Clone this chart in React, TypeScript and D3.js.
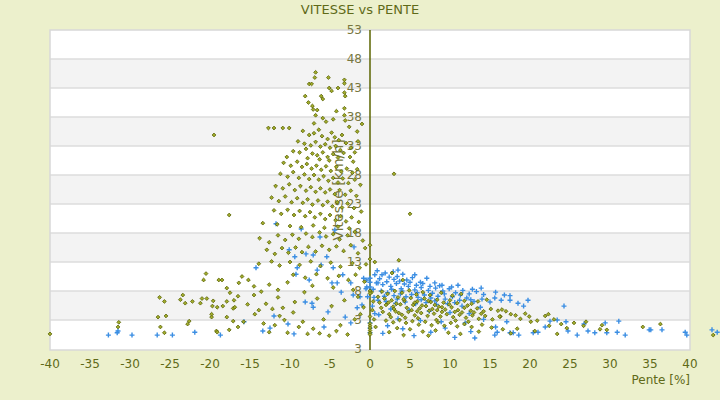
import React from 'react';
import * as d3 from 'd3';

// [pente %, vitesse km/h]
const greenTop: [number, number][] = [
  [-6.8, 45.7], [-6.9, 44.8], [-5.2, 44.8], [-7.6, 43.7], [-7.3, 43.7], [-3.2, 44.4], [-3.2, 43.8],
  [-5.1, 43.0], [-4.8, 42.5], [-4.0, 43.0], [-3.1, 41.6], [-8.1, 41.6], [-6.1, 41.6], [-5.9, 41.1], [-3.2, 42.2],
];
const greenHigh: [number, number][] = [
  [-7.7, 40.5], [-7.2, 39.9], [-7.1, 39.3], [-6.6, 39.2], [-6.8, 38.3], [-5.9, 37.8], [-4.2, 39.0], [-3.2, 39.5],
  [-3.2, 38.3], [-3.1, 37.4], [-1.0, 36.8], [-12.7, 36.1], [-10.9, 36.1], [-10.1, 36.1], [-8.4, 35.6], [-7.6, 34.9],
  [-7.0, 35.2], [-6.4, 35.8], [-6.0, 34.7], [-5.3, 34.2], [-4.8, 35.3], [-4.4, 34.5], [-3.9, 34.0], [-3.5, 34.9],
  [-2.6, 36.3], [-1.6, 35.5], [-9.0, 33.8], [-8.2, 33.4], [-7.4, 33.1], [-6.8, 33.7], [-6.2, 32.9], [-5.6, 33.3],
  [-5.0, 32.7], [-4.3, 33.0], [-3.7, 32.3], [-3.0, 33.5], [-2.4, 32.7], [-9.6, 32.1], [-8.8, 31.9], [-8.0, 32.5],
  [-7.2, 31.7], [-6.6, 31.4], [-5.9, 31.9], [-5.3, 31.1], [-4.6, 31.6], [-4.0, 31.0], [-3.3, 31.8], [-2.5, 31.1],
  [-1.9, 31.9], [-10.4, 31.1], [-7.8, 30.9], [-6.3, 30.7], [-5.1, 30.5], [-2.1, 30.3], [-12.0, 36.1], [-19.5, 34.9],
  [-1.5, 33.8], [-7.0, 36.9], [-5.5, 37.2], [-4.6, 37.6],
];
const greenMid: [number, number][] = [
  [-10.8, 30.1], [-9.9, 29.6], [-9.1, 30.3], [-8.5, 29.4], [-7.9, 29.9], [-7.3, 29.1], [-6.7, 29.6], [-6.1, 28.9],
  [-5.5, 29.5], [-4.9, 28.7], [-4.2, 29.4], [-3.6, 28.6], [-2.9, 29.1], [-2.2, 28.4], [-1.6, 29.0],
  [-11.2, 28.2], [-10.3, 27.7], [-9.6, 28.5], [-8.9, 27.5], [-8.2, 28.1], [-7.6, 27.3], [-7.0, 28.0], [-6.4, 27.2],
  [-5.8, 27.8], [-5.2, 27.0], [-4.6, 27.5], [-4.0, 26.7], [-3.4, 27.4], [-2.7, 26.6], [-1.9, 27.2], [-1.2, 26.3],
  [-11.8, 26.1], [-10.9, 25.7], [-10.1, 26.4], [-9.4, 25.4], [-8.7, 26.1], [-8.0, 25.3], [-7.4, 25.9], [-6.8, 25.1],
  [-6.2, 25.7], [-5.6, 25.0], [-5.0, 25.5], [-4.4, 24.7], [-3.8, 25.4], [-3.1, 24.6], [-2.4, 25.3], [-1.7, 24.4],
  [-12.3, 24.1], [-11.4, 23.5], [-10.6, 24.3], [-9.8, 23.3], [-9.1, 24.0], [-8.4, 23.2], [-7.8, 23.8], [-7.2, 22.9],
  [-6.5, 23.6], [-5.9, 22.8], [-5.3, 23.4], [-4.7, 22.6], [-4.1, 23.3], [-3.5, 22.4], [-2.8, 23.1], [-2.0, 22.3],
  [-1.1, 21.7], [-12.0, 21.9], [-11.1, 21.3], [-10.3, 22.0], [-9.5, 21.1], [-8.8, 21.8], [-8.1, 20.9], [-7.5, 21.6],
  [-6.9, 20.7], [-6.2, 21.3], [-5.6, 20.4], [-5.0, 21.1], [-4.3, 20.2], [-3.7, 20.9], [-3.0, 20.0], [-2.3, 20.7],
  [-1.4, 19.9], [-11.6, 19.5], [-10.0, 19.2], [-8.6, 19.0], [-7.1, 19.3], [-5.7, 18.9], [-4.0, 19.1], [-2.6, 18.8],
  [-13.4, 19.7], [-17.6, 21.1], [5.0, 21.3], [3.0, 28.2],
];
const greenLow: [number, number][] = [
  [-13.8, 17.1], [-12.6, 16.4], [-11.5, 17.6], [-10.6, 16.8], [-9.7, 17.7], [-8.9, 17.0], [-8.0, 17.9], [-7.2, 17.3],
  [-6.3, 18.1], [-5.5, 17.4], [-4.6, 17.8], [-3.8, 16.9], [-2.8, 17.6], [-1.9, 18.2], [-0.9, 16.7],
  [-12.9, 15.1], [-11.9, 14.4], [-11.0, 15.4], [-10.2, 14.6], [-9.3, 15.5], [-8.5, 14.7], [-7.7, 15.6], [-6.8, 14.8],
  [-6.0, 15.8], [-5.1, 15.1], [-4.2, 15.7], [-3.3, 14.9], [-2.4, 15.9], [-1.5, 14.5], [-0.6, 15.4],
  [-13.9, 12.7], [-12.3, 13.1], [-11.3, 12.4], [-10.0, 13.0], [-8.8, 12.5], [-7.4, 13.1], [-6.2, 12.3], [-4.9, 12.9],
  [-3.7, 12.2], [-2.2, 12.8], [-1.3, 12.0], [-0.5, 12.6], [-9.6, 10.8], [-8.1, 10.3], [-6.7, 10.9], [-5.3, 10.2],
  [-3.9, 10.6], [-2.7, 9.9], [-1.8, 10.8], [-0.7, 9.6], [-7.2, 8.9], [-4.6, 8.6], [-2.1, 8.2],
];
const greenLeft: [number, number][] = [
  [-20.5, 11.0], [-20.8, 9.9], [-18.9, 9.9], [-18.5, 9.9], [-17.9, 8.5], [-17.5, 7.7], [-16.4, 9.4], [-16.0, 10.5],
  [-15.2, 9.9], [-14.5, 8.8], [-13.6, 7.9], [-12.6, 9.1], [-11.5, 8.2], [-10.3, 9.5], [-23.4, 7.3], [-23.7, 6.5],
  [-23.1, 5.9], [-22.2, 6.2], [-21.0, 6.7], [-20.4, 6.7], [-19.6, 6.3], [-19.1, 5.2], [-18.4, 5.4], [-17.9, 6.2],
  [-17.1, 5.0], [-16.5, 7.1], [-15.3, 5.7], [-14.5, 7.3], [-13.9, 4.7], [-13.0, 5.8], [-12.2, 4.9], [-11.5, 6.9],
  [-10.9, 5.1], [-25.7, 6.2], [-26.3, 6.9], [-26.5, 3.5], [-26.2, 1.8], [-25.7, 0.8], [-31.5, 1.8], [-31.4, 2.6],
  [-25.5, 3.7], [-22.8, 2.3], [-22.6, 2.8], [-21.2, 5.9], [-19.8, 3.5], [-19.8, 4.0], [-19.7, 5.4], [-17.9, 3.5],
  [-19.2, 1.1], [-17.6, 1.3], [-17.1, 2.8], [-16.9, 5.2], [-17.0, 6.4], [-40.0, 0.6], [-19.1, 0.9],
  [-16.5, 1.8], [-15.8, 2.7], [-14.4, 4.0], [-13.3, 2.4], [-12.6, 0.9], [-11.9, 2.1], [-11.3, 3.7], [-10.7, 3.0],
  [-10.3, 0.8], [-9.6, 4.3], [-8.9, 1.8], [-8.4, 2.7], [-7.8, 0.6], [-7.1, 1.5], [-6.3, 0.7], [-5.8, 3.1],
  [-5.1, 0.3], [-4.2, 1.1], [-3.7, 2.1], [-2.8, 0.5], [-1.9, 3.1], [-1.2, 4.0], [-0.8, 5.2], [-1.5, 7.0],
  [-3.2, 6.4], [-4.8, 5.4], [-6.6, 6.7], [-8.2, 7.8], [-9.4, 6.1],
];
const greenFlat: [number, number][] = [
  [1.5, 7.9], [2.2, 7.5], [3.1, 8.0], [4.0, 7.7], [4.9, 8.1], [5.8, 7.4], [6.6, 7.8], [7.5, 7.3], [8.9, 7.7],
  [10.3, 7.2], [11.4, 7.5], [1.0, 7.0], [1.8, 6.7], [2.7, 6.4], [3.5, 6.9], [4.3, 6.3], [5.1, 6.8], [5.9, 6.2],
  [6.8, 6.7], [7.6, 6.1], [8.4, 6.5], [9.2, 6.0], [10.0, 6.4], [10.9, 5.9], [11.8, 6.3], [12.7, 5.8], [13.5, 6.2],
  [14.6, 6.5], [2.0, 5.6], [2.9, 5.3], [3.8, 5.7], [4.6, 5.1], [5.4, 5.6], [6.2, 5.0], [7.0, 5.4], [7.8, 4.9],
  [8.6, 5.3], [9.4, 4.8], [10.2, 5.2], [11.0, 4.7], [11.8, 5.1], [12.6, 4.6], [13.4, 5.0], [14.2, 4.5], [15.1, 4.9],
  [16.0, 4.6], [1.4, 5.1], [1.6, 4.4], [2.4, 4.0], [3.2, 4.5], [4.0, 3.9], [4.8, 4.4], [5.6, 3.8], [6.4, 4.2],
  [7.2, 3.7], [8.0, 4.1], [8.8, 3.6], [9.6, 4.0], [10.4, 3.5], [11.2, 3.9], [12.0, 3.4], [12.8, 3.8], [13.6, 3.2],
  [14.4, 3.7], [15.3, 3.1], [16.3, 3.6], [2.0, 2.9], [2.9, 2.6], [3.7, 3.0], [4.5, 2.5], [5.3, 2.8], [6.1, 2.2],
  [6.9, 2.7], [7.7, 2.1], [8.5, 2.6], [9.3, 2.0], [10.1, 2.5], [10.9, 1.9], [11.8, 2.3], [12.7, 1.8], [14.0, 2.2],
  [15.2, 1.7], [3.4, 1.6], [5.0, 1.4], [6.6, 1.0], [8.2, 1.2], [9.8, 0.8], [2.4, 0.9], [4.2, 0.4], [11.3, 0.6],
  [13.6, 1.0], [16.6, 1.4], [7.3, 0.3], [0.3, 4.7], [0.5, 3.1], [0.4, 6.2], [0.7, 1.8], [0.2, 7.8],
  [3.0, 4.9], [5.2, 4.7], [7.4, 4.6], [9.0, 4.4], [11.5, 4.3], [6.0, 3.3], [8.3, 3.0], [10.7, 2.9], [4.4, 3.4],
  [2.6, 3.5], [12.3, 2.7], [13.9, 4.1], [2.75, 11.1], [4.1, 9.9], [3.6, 13.3], [0.6, 13.0],
  [2.3, 6.0], [3.3, 5.8], [4.2, 6.6], [5.6, 6.0], [6.5, 5.5], [7.3, 6.3], [8.1, 5.6], [9.0, 5.2], [9.9, 5.7],
  [10.6, 4.4], [12.2, 5.5], [13.0, 4.3], [1.2, 6.0], [3.6, 4.2], [5.9, 4.5], [8.4, 4.7],
];
const greenTail: [number, number][] = [
  [16.5, 4.8], [17.0, 4.5], [16.2, 3.6], [17.6, 4.0], [18.2, 3.8], [18.8, 3.2], [19.4, 4.1], [19.9, 3.6],
  [20.1, 2.7], [20.9, 2.9], [21.9, 3.7], [22.3, 4.0], [23.0, 3.1], [23.9, 2.3], [24.6, 1.6], [25.5, 2.5],
  [26.7, 2.0], [27.0, 2.7], [28.75, 1.4], [29.0, 2.1], [29.6, 1.3], [34.1, 1.8], [36.3, 2.3], [42.9, 0.4],
  [18.4, 1.5], [20.6, 1.1], [23.4, 0.6], [17.6, 0.7], [22.4, 2.0],
];
const greenAxis: [number, number][] = [
  [0, 2.4], [0, 2.0], [0, 1.6], [0, 1.2], [0, 0.8], [0, 0.5], [0, 3.6], [0, 15.9], [0, 13.5], [0, 8.0], [0, 7.6],
];

const blueCluster: [number, number][] = [
  [0.9, 11.5], [1.9, 11.1], [2.9, 11.3], [3.4, 10.5], [1.2, 10.1], [2.4, 10.4], [4.1, 10.9], [4.6, 9.9], [5.3, 10.3],
  [6.3, 9.5], [7.1, 10.2], [8.1, 9.4], [9.0, 9.0], [0.8, 9.4], [1.6, 9.1], [2.6, 8.8], [3.3, 9.3], [3.9, 8.4],
  [4.8, 8.8], [5.6, 8.2], [6.4, 8.6], [7.3, 8.1], [8.2, 8.5], [9.1, 8.0], [9.9, 8.4], [10.7, 7.7], [11.6, 8.1],
  [12.4, 7.5], [13.3, 7.9], [14.2, 7.4], [15.7, 7.8], [16.8, 7.3], [1.4, 8.0], [2.2, 7.7], [3.0, 7.2], [3.8, 7.5],
  [4.5, 7.0], [5.2, 7.4], [6.0, 6.9], [6.8, 7.3], [7.6, 6.8], [8.5, 7.1], [9.4, 6.6], [10.3, 7.0], [11.2, 6.4],
  [12.1, 6.8], [13.0, 6.2], [14.0, 6.6], [15.0, 6.1], [1.0, 6.4], [2.0, 6.2], [3.2, 5.9], [4.4, 6.1], [5.7, 5.8],
  [7.0, 6.0], [8.3, 5.7], [9.7, 5.8], [11.5, 5.4], [13.8, 5.2], [2.6, 4.9], [4.9, 4.7], [7.4, 4.5], [10.0, 4.3],
  [12.4, 4.1], [1.1, 3.9], [3.5, 3.2], [6.3, 2.9], [8.9, 2.7], [11.9, 2.5], [14.2, 3.1], [2.2, 2.0], [4.1, 1.5],
  [7.6, 0.9], [9.4, 1.6], [12.6, 1.0], [15.7, 1.8], [5.5, 0.3], [10.6, 0.0], [13.1, -0.1], [1.6, 0.7],
  [1.5, 10.8], [2.1, 9.6], [3.0, 10.0], [3.7, 9.7], [4.3, 9.2], [5.0, 9.5], [5.8, 9.0], [6.6, 9.3], [7.5, 8.8],
  [8.7, 8.9], [10.2, 8.7], [11.0, 9.0], [3.5, 11.6], [5.6, 10.8], [2.7, 8.3], [4.0, 8.0], [5.9, 7.7], [7.8, 7.6],
  [9.3, 7.5], [11.3, 7.3], [12.8, 8.3], [13.9, 8.5], [1.8, 7.1], [3.4, 6.6], [6.4, 6.5], [8.1, 6.3], [10.6, 6.0],
  [12.6, 6.5], [15.6, 6.8], [17.5, 7.2],
];
const blueTail: [number, number][] = [
  [16.4, 6.4], [17.5, 6.4], [18.5, 5.9], [19.75, 6.4], [19.2, 5.4], [24.25, 5.4], [23.4, 3.0], [24.5, 2.7],
  [24.75, 1.1], [25.9, 0.4], [26.75, 2.3], [27.25, 1.1], [28.1, 0.8], [29.4, 2.5], [29.6, 0.8], [31.1, 2.8],
  [30.9, 0.9], [31.9, 0.4], [34.9, 1.3], [35.1, 1.3], [36.5, 1.3], [39.4, 0.9], [39.6, 0.4], [42.75, 1.3],
  [43.4, 0.9], [20.4, 0.8], [21.9, 1.8], [21.0, 0.9], [22.5, 2.8], [17.9, 0.8], [18.6, 0.4], [17.5, 0.8],
  [15.9, 0.9], [15.6, 0.4], [17.1, 2.7],
];
const blueDescent: [number, number][] = [
  [-32.7, 0.4], [-31.6, 0.8], [-31.5, 1.1], [-29.75, 0.4], [-26.6, 0.4], [-24.7, 0.4], [-21.9, 0.9], [-18.7, 0.4],
  [-15.75, 2.7], [-14.25, 12.0], [-11.75, 19.6], [-13.4, 1.1], [-12.5, 1.6], [-12.0, 3.7], [-10.25, 2.3],
  [-10.1, 15.1], [-9.5, 0.6], [-9.25, 10.9], [-9.1, 12.0], [-8.0, 14.4], [-7.6, 9.9], [-8.1, 6.1], [-7.25, 5.9],
  [-7.1, 5.2], [-6.6, 11.6], [-6.25, 17.3], [-6.1, 12.5], [-5.75, 1.8], [-5.25, 4.4], [-4.6, 12.0], [-4.4, 18.5],
  [-4.75, 9.4], [-4.1, 9.4], [-3.6, 7.8], [-3.4, 10.8], [-3.1, 3.5], [-2.4, 2.5], [-2.1, 7.3], [-2.4, 9.4],
  [-2.0, 15.6], [-1.25, 7.0], [-1.0, 5.6], [-1.6, 5.1], [-0.4, 9.9], [-0.4, 8.7], [0.6, 10.8], [1.0, 9.4],
  [-8.6, 18.7], [-9.4, 13.9], [-7.1, 14.2], [-5.4, 13.9], [-0.5, 8.4], [-0.3, 7.0], [-0.8, 10.2], [0.4, 8.3],
  [0.5, 6.9], [0.3, 5.4], [0.6, 4.1], [0, 10.2], [0, 9.5], [0, 8.7], [0, 2.5], [0, 1.6], [0, 0.8],
];

const xTicks = [-40, -35, -30, -25, -20, -15, -10, -5, 0, 5, 10, 15, 20, 25, 30, 35, 40];
const yTicks = [53, 48, 43, 38, 33, 28, 23, 18, 13, 8, 3, -2];
const yTickLabels = ['53', '48', '43', '38', '33', '28', '23', '18', '13', '8', '3', '3'];

const green = [...greenTop, ...greenHigh, ...greenMid, ...greenLow, ...greenLeft, ...greenFlat, ...greenTail, ...greenAxis];
const blue = [...blueCluster, ...blueTail, ...blueDescent];

export default function App() {
  const W = 720;
  const H = 400;
  const left = 50, right = 690, top = 30, bottom = 350;
  const x = d3.scaleLinear().domain([-40, 40]).range([left, right]);
  const y = d3.scaleLinear().domain([-2, 53]).range([349, top]);
  const font = 'DejaVu Sans, sans-serif';
  const diamond = 'M0,-1.9L1.9,0L0,1.9L-1.9,0Z';
  const plus = 'M-2.5,0H2.5M0,-2.5V2.5';

  return (
    <div style={{ position: 'fixed', left: 0, top: 0 }}>
      <svg width={W} height={H} style={{ display: 'block', fontFamily: font }}>
        <rect width={W} height={H} fill="#ecf0cc" />
        <rect x={left} y={top} width={right - left} height={bottom - top} fill="#ffffff" />
        {yTicks.slice(0, -1).map((t, i) =>
          i % 2 === 1 ? (
            <rect key={'b' + t} x={left} y={y(t)} width={right - left} height={y(yTicks[i + 1]) - y(t)} fill="#f3f3f3" />
          ) : null
        )}
        {yTicks.slice(1, -1).map((t) => (
          <line key={'g' + t} x1={left} x2={right} y1={y(t)} y2={y(t)} stroke="#dcdcdc" strokeWidth={1.5} />
        ))}
        <rect x={left} y={top} width={right - left} height={bottom - top} fill="none" stroke="#d8d8d8" strokeWidth={1.5} />

        <text x={360} y={14} textAnchor="middle" fontSize={13} fill="#5f6a18">VITESSE vs PENTE</text>

        <text
          transform={`translate(${x(-4)},${(top + bottom) / 2}) rotate(-90)`}
          textAnchor="middle"
          dominantBaseline="central"
          fontSize={14}
          fill="#77773f"
        >
          Vitesse [km/h]
        </text>

        {yTicks.map((t, i) => (
          <text key={'y' + t} x={x(0) - 8} y={y(t)} textAnchor="end" dominantBaseline="central" fontSize={12} fill="#77773f">
            {yTickLabels[i]}
          </text>
        ))}
        {xTicks.map((t) => (
          <text key={'x' + t} x={x(t)} y={364} textAnchor="middle" dominantBaseline="central" fontSize={12} fill="#5f6a18">
            {t}
          </text>
        ))}
        <text x={right} y={380} textAnchor="end" dominantBaseline="central" fontSize={12} fill="#5f6a18">Pente [%]</text>

        <line x1={x(0)} x2={x(0)} y1={top} y2={bottom} stroke="#5b6400" strokeWidth={1.5} />

        {blue.map((d, i) => (
          <path key={'p' + i} d={plus} transform={`translate(${x(d[0])},${y(d[1])})`} stroke="#3b8ee3" strokeWidth={1.4} fill="none" />
        ))}
        {green.map((d, i) => (
          <path key={'d' + i} d={diamond} transform={`translate(${x(d[0])},${y(d[1])})`} fill="#a3ad2c" stroke="#566000" strokeWidth={0.8} />
        ))}
      </svg>
    </div>
  );
}
